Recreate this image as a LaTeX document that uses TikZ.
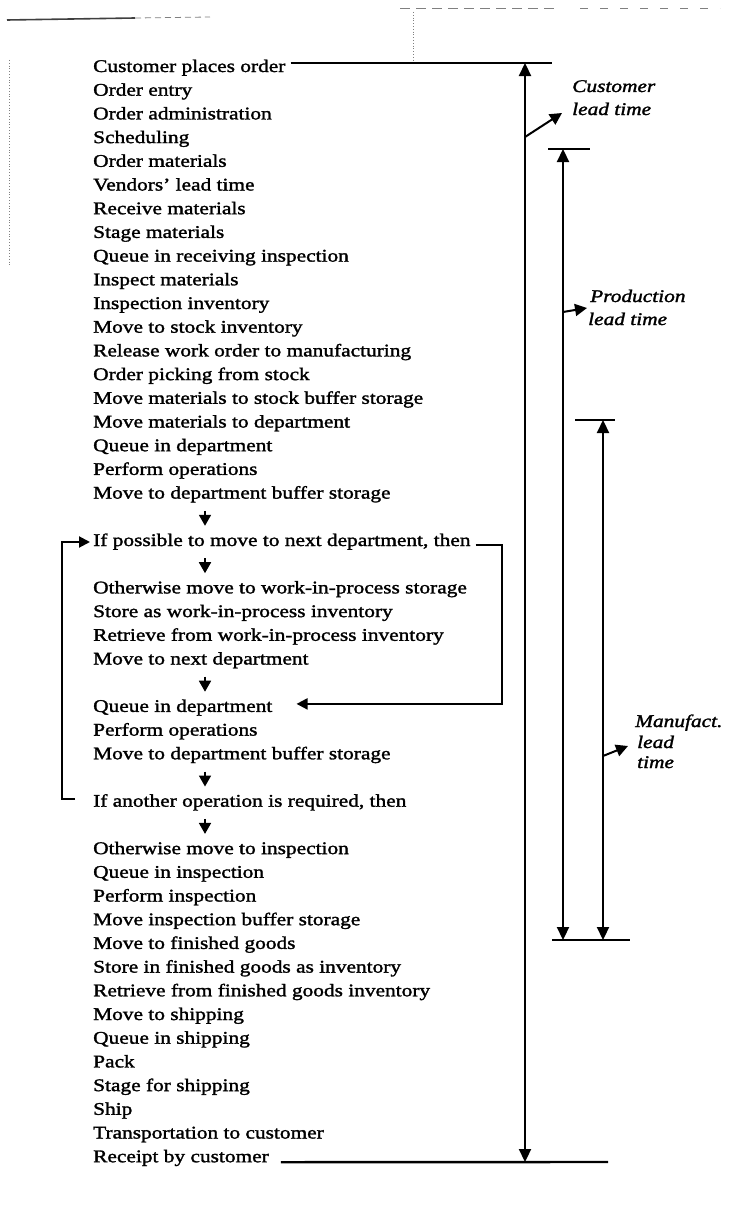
\documentclass[tikz,border=0pt]{standalone}
\usepackage{fontspec}
\setmainfont{Liberation Serif}[FakeStretch=1.2, FakeBold=1.6]
\usetikzlibrary{arrows.meta}

\begin{document}
\begin{tikzpicture}[x=1pt, y=-1pt,
  row/.style={anchor=base west, inner sep=0pt, text height=12pt, text depth=4pt,
              font=\fontsize{17.8}{20}\selectfont},
  lbl/.style={anchor=base west, inner sep=0pt, text height=12pt, text depth=4pt,
              font=\fontsize{17.8}{20}\selectfont\itshape},
  bar/.style={line width=2.4pt},
  conn/.style={line width=2pt, -{Triangle[width=11pt,length=11pt]}},
  dimline/.style={line width=2.2pt,
    {Triangle[width=12pt,length=13pt]}-{Triangle[width=12pt,length=13pt]}},
  pointer/.style={line width=2pt, -{Triangle[width=12pt,length=12pt]}},
  downarr/.style={line width=1.8pt, -{Triangle[width=12pt,length=11pt]},
    shorten <=8pt, shorten >=8pt},
  scan/.style={black!75}
]
\fill[white] (0,0) rectangle (732,1207);
\useasboundingbox (0,0) rectangle (732,1207);

% marks left by the page edge
\draw[scan, line width=1.6pt] (7,20) -- (135,18);
\draw[scan, gray, line width=0.8pt, dash pattern=on 6pt off 4pt] (135,18) -- (210,17);
\draw[gray, line width=0.7pt, dash pattern=on 10pt off 6pt] (400,8) -- (560,8);
\draw[gray, line width=0.7pt, dash pattern=on 8pt off 12pt] (580,8) -- (720,8);
\draw[gray, line width=0.8pt, dotted] (9,60) -- (9,265);
\draw[gray, line width=0.8pt, dotted] (413,12) -- (413,62);

% the sequence of steps, one per row
\foreach \i/\t in {
  0/Customer places order, 1/Order entry, 2/Order administration, 3/Scheduling,
  4/Order materials, 5/Vendors' lead time, 6/Receive materials, 7/Stage materials,
  8/Queue in receiving inspection, 9/Inspect materials, 10/Inspection inventory,
  11/Move to stock inventory, 12/Release work order to manufacturing,
  13/Order picking from stock, 14/Move materials to stock buffer storage,
  15/Move materials to department, 16/Queue in department, 17/Perform operations,
  18/Move to department buffer storage,
  20/{If possible to move to next department, then},
  22/Otherwise move to work-in-process storage,
  23/Store as work-in-process inventory,
  24/Retrieve from work-in-process inventory, 25/Move to next department,
  27/Queue in department, 28/Perform operations,
  29/Move to department buffer storage,
  31/{If another operation is required, then},
  33/Otherwise move to inspection, 34/Queue in inspection, 35/Perform inspection,
  36/Move inspection buffer storage, 37/Move to finished goods,
  38/Store in finished goods as inventory,
  39/Retrieve from finished goods inventory, 40/Move to shipping,
  41/Queue in shipping, 42/Pack, 43/Stage for shipping, 44/Ship,
  45/Transportation to customer, 46/Receipt by customer}
  \node[row] (r\i) at (93, {72+23.7*\i}) {\t};

% short downward arrows between steps
\coordinate (ax) at (205,0);
\draw[downarr] (r18.south -| ax) -- (r20.north -| ax);
\draw[downarr] (r20.south -| ax) -- (r22.north -| ax);
\draw[downarr] (r25.south -| ax) -- (r27.north -| ax);
\draw[downarr] (r29.south -| ax) -- (r31.north -| ax);
\draw[downarr] (r31.south -| ax) -- (r33.north -| ax);

% loops of the department cycle
\coordinate (rx) at (502,0);
\coordinate (lx) at (62,0);
\draw[conn] ([xshift=5pt,yshift=-3pt]r20.east) -- ([yshift=-3pt]r20.east -| rx)
  |- ([xshift=24pt,yshift=4pt]r27.east);
\draw[conn] ([xshift=-18pt,yshift=4pt]r31.west) -- ([yshift=4pt]r31.west -| lx)
  |- ([xshift=-3pt]r20.west);

% customer lead time
\coordinate (ct) at (525,63);
\coordinate (cb) at (525,1162);
\coordinate (ctR) at (552,63);
\coordinate (cbR) at (608,1162);
\draw[bar] ([xshift=5pt,yshift=5pt]r0.east) -- (ctR);
\draw[bar] ([xshift=12pt,yshift=-4pt]r46.east) -- (cbR);
\draw[dimline] (ct) -- (cb);

% production lead time
\coordinate (pt) at (563,149);
\coordinate (pb) at (563,940);
\coordinate (ptL) at (548,149);
\coordinate (ptR) at (590,149);
\coordinate (pbL) at (552,940);
\coordinate (pbR) at (630,940);
\draw[bar] (ptL) -- (ptR);
\draw[bar] (pbL) -- (pbR);
\draw[dimline] (pt) -- (pb);

% manufacturing lead time
\coordinate (mt) at (603,420);
\coordinate (mb) at (603,940);
\coordinate (mtL) at (575,420);
\coordinate (mtR) at (615,420);
\draw[bar] (mtL) -- (mtR);
\draw[dimline] (mt) -- (mb);

% labels of the three spans
\node[lbl] (cl1) at (572,92) {Customer};
\node[lbl] (cl2) at (572,115) {lead time};
\node[lbl] (pl1) at (590,302) {Production};
\node[lbl] (pl2) at (588,325) {lead time};
\node[lbl] (ml1) at (635,727) {Manufact.};
\node[lbl] (ml2) at (637,748) {lead};
\node[lbl] (ml3) at (637,768) {time};

\coordinate (cs) at (525,137);
\coordinate (ps) at (563,312);
\coordinate (ms) at (603,756);
\draw[pointer] (cs) -- ([xshift=-10pt,yshift=-2pt]cl2.west);
\draw[pointer] (ps) -- ([xshift=-3pt,yshift=-10pt]pl1.west);
\draw[pointer] (ms) -- ([xshift=-9pt,yshift=-2pt]ml2.west);
\end{tikzpicture}
\end{document}
